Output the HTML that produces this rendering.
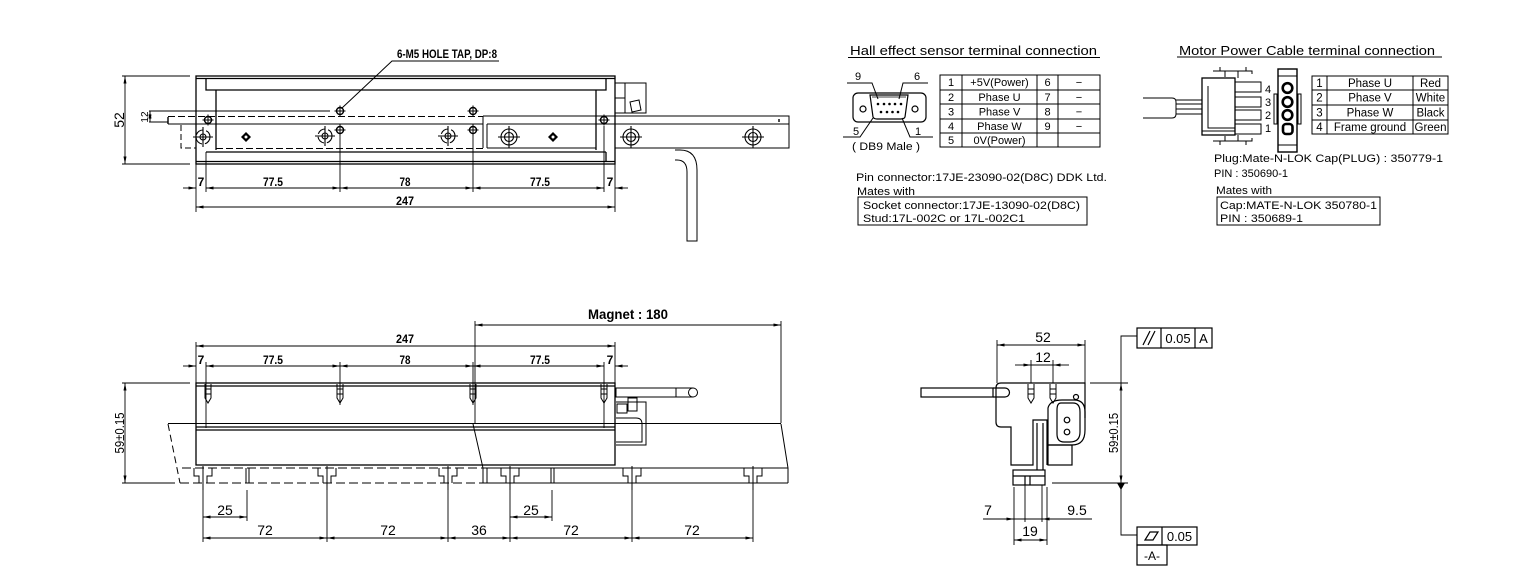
<!DOCTYPE html>
<html><head><meta charset="utf-8"><style>
html,body{margin:0;padding:0;background:#fff;}
svg{display:block;}
text{font-family:"Liberation Sans",sans-serif;fill:#000;stroke:none;}
.b{font-weight:bold;font-size:12px;}
.n{font-size:14px;}
.s{font-size:11px;}
.m{font-size:11.5px;}
</style></head><body>
<svg width="1530" height="575" viewBox="0 0 1530 575" xmlns="http://www.w3.org/2000/svg">
<defs>
<marker id="a" viewBox="0 0 10 4" refX="10" refY="2" markerWidth="8" markerHeight="3" markerUnits="userSpaceOnUse" orient="auto-start-reverse"><path d="M0,0L10,2L0,4z" fill="#000"/></marker>
<g id="h" fill="none" stroke="#000"><circle r="3.5" stroke-width="1.4"/><path d="M-5.5,0H5.5M0,-5.5V5.5" stroke-width="1"/></g>
<g id="t" fill="none" stroke="#000" stroke-width="1.1"><circle r="8"/><circle r="4.5"/><path d="M-11,0H11M0,-11V11"/></g>
<g id="c" fill="none" stroke="#000" stroke-width="1.1"><circle r="7" stroke-dasharray="9 3"/><circle r="3"/><path d="M-10,0H10M0,-10V10"/></g>
<g id="dm"><path d="M0,-5L5,0L0,5L-5,0Z" fill="#000"/><circle r="1.5" fill="#fff"/></g>
<g id="ts" fill="none" stroke="#000" stroke-width="1"><path d="M-9,468V476H-4V483M9,468V476H4V483M0,466V490"/></g>
<g id="bt" fill="none" stroke="#000" stroke-width="1"><path d="M-3,0V14L0,19L3,14V0M-3,5H3M-3,10H3"/></g>
</defs>

<!-- ================= TOP-LEFT VIEW ================= -->
<g fill="none" stroke="#000" stroke-width="1.3">
<rect x="196" y="76" width="419" height="88"/>
<line x1="196" y1="78.5" x2="615" y2="78.5"/>
<path d="M206,78V90H606V78"/>
<line x1="216" y1="90" x2="216" y2="150"/>
<line x1="596" y1="90" x2="596" y2="150"/>
<line x1="206" y1="152" x2="606" y2="152"/>
<line x1="196" y1="161.5" x2="615" y2="161.5"/>
<line x1="606" y1="152" x2="606" y2="162"/>
</g>
<g fill="none" stroke="#000" stroke-width="1">
<path d="M168,117V124" stroke-width="1.4"/>
<line x1="168" y1="116.5" x2="483" y2="116.5" stroke-dasharray="7 3"/>
<line x1="168" y1="124" x2="483" y2="124"/>
<line x1="216" y1="148.5" x2="483" y2="148.5" stroke-dasharray="7 3"/>
<path d="M181,125V148H196" stroke-dasharray="6 3"/>
<line x1="483" y1="116" x2="483" y2="148"/>
<line x1="487" y1="124" x2="487" y2="148"/>
<line x1="487" y1="148" x2="596" y2="148"/>
<line x1="483" y1="116" x2="789" y2="116"/>
<line x1="487" y1="124" x2="789" y2="124"/>
<rect x="615" y="116" width="174" height="32"/>
<path d="M779,119V122" stroke-width="1.4"/>
<line x1="149" y1="111" x2="330" y2="111"/>
<line x1="149" y1="122" x2="168" y2="122"/>
<rect x="615" y="83" width="31" height="30"/>
<line x1="625" y1="83" x2="625" y2="113"/>
<line x1="615" y1="98" x2="625" y2="98"/>
<path d="M630,102L639,100L641,110L632,112Z"/>
<path d="M675,150H680Q697,150 697,170V241H687V172Q687,160 677,160H675"/>
</g>
<use href="#h" x="208" y="120"/>
<use href="#h" x="340" y="111"/>
<use href="#h" x="340" y="130"/>
<use href="#h" x="473" y="111"/>
<use href="#h" x="473" y="130"/>
<use href="#h" x="604" y="120"/>
<use href="#c" x="203" y="137"/>
<use href="#c" x="325" y="136"/>
<use href="#c" x="448" y="136"/>
<use href="#dm" x="246" y="137"/>
<use href="#dm" x="553" y="137"/>
<use href="#t" x="509" y="137"/>
<use href="#t" x="631" y="137"/>
<use href="#t" x="753" y="137"/>
<path d="M342,108L392,61H499" fill="none" stroke="#000" stroke-width="1"/>
<text x="397" y="58" class="b" font-size="10.5" textLength="100" lengthAdjust="spacingAndGlyphs">6-M5 HOLE TAP, DP:8</text>
<g stroke="#000" stroke-width="0.9" fill="none">
<path d="M122,76H190M122,164H190"/>
<line x1="125" y1="76" x2="125" y2="164" marker-start="url(#a)" marker-end="url(#a)"/>
<line x1="150" y1="111" x2="150" y2="122" marker-start="url(#a)" marker-end="url(#a)"/>
<path d="M196,164V212M206,152V192M340,134V192M473,134V192M604,126V192M615,164V212"/>
<line x1="183" y1="188" x2="196" y2="188" marker-end="url(#a)"/>
<line x1="206" y1="188" x2="340" y2="188" marker-start="url(#a)" marker-end="url(#a)"/>
<line x1="340" y1="188" x2="473" y2="188" marker-start="url(#a)" marker-end="url(#a)"/>
<line x1="473" y1="188" x2="604" y2="188" marker-start="url(#a)" marker-end="url(#a)"/>
<line x1="628" y1="188" x2="615" y2="188" marker-end="url(#a)"/>
<line x1="196" y1="207" x2="615" y2="207" marker-start="url(#a)" marker-end="url(#a)"/>
</g>
<text transform="translate(124,120) rotate(-90)" class="n" text-anchor="middle">52</text>
<text transform="translate(148,117) rotate(-90)" font-size="10" text-anchor="middle">12</text>
<text x="201" y="186" class="b" text-anchor="middle">7</text>
<text x="273" y="186" class="b" text-anchor="middle" textLength="20" lengthAdjust="spacingAndGlyphs">77.5</text>
<text x="405" y="186" class="b" text-anchor="middle" textLength="11" lengthAdjust="spacingAndGlyphs">78</text>
<text x="540" y="186" class="b" text-anchor="middle" textLength="20" lengthAdjust="spacingAndGlyphs">77.5</text>
<text x="610" y="186" class="b" text-anchor="middle">7</text>
<text x="405" y="205" class="b" text-anchor="middle" textLength="18" lengthAdjust="spacingAndGlyphs">247</text>

<!-- ================= HALL SENSOR ================= -->
<text x="850" y="55" font-size="13" textLength="247" lengthAdjust="spacingAndGlyphs">Hall effect sensor terminal connection</text>
<line x1="848" y1="57.5" x2="1100" y2="57.5" stroke="#000" stroke-width="1"/>
<g fill="none" stroke="#000" stroke-width="1.2">
<rect x="853" y="93" width="73" height="29" rx="5"/>
<path d="M870,95H908L905,117Q904,119 901,119H877Q874,119 873,117Z"/>
<path d="M872,97H906" stroke-width="0.8"/>
<circle cx="863" cy="109" r="3"/>
<circle cx="915" cy="109" r="3"/>
<path d="M847,83H872L878,99M928,83H903L899,99M843,137H860L873,118M933,137H910L902,118" stroke-width="1"/>
</g>
<g fill="#000">
<circle cx="878" cy="104" r="1.3"/><circle cx="884" cy="104" r="1.3"/><circle cx="889.5" cy="104" r="1.3"/><circle cx="895" cy="104" r="1.3"/><circle cx="901" cy="104" r="1.3"/>
<circle cx="881" cy="112" r="1.3"/><circle cx="887" cy="112" r="1.3"/><circle cx="892.5" cy="112" r="1.3"/><circle cx="898" cy="112" r="1.3"/>
</g>
<text x="858" y="80" class="s" text-anchor="middle">9</text>
<text x="917" y="80" class="s" text-anchor="middle">6</text>
<text x="856" y="135" class="s" text-anchor="middle">5</text>
<text x="918" y="135" class="s" text-anchor="middle">1</text>
<text x="852" y="150" class="s" textLength="68" lengthAdjust="spacingAndGlyphs">( DB9 Male )</text>
<g fill="none" stroke="#000" stroke-width="1">
<rect x="940" y="75" width="160" height="72"/>
<path d="M940,90H1100M940,104H1100M940,119H1100M940,133H1100M962,75V147M1037,75V147M1058,75V147"/>
</g>
<g class="s" text-anchor="middle">
<text x="951" y="86">1</text><text x="999.5" y="86">+5V(Power)</text><text x="1047.5" y="86">6</text><text x="1079" y="86">−</text>
<text x="951" y="101">2</text><text x="999.5" y="101">Phase U</text><text x="1047.5" y="101">7</text><text x="1079" y="101">−</text>
<text x="951" y="115.5">3</text><text x="999.5" y="115.5">Phase V</text><text x="1047.5" y="115.5">8</text><text x="1079" y="115.5">−</text>
<text x="951" y="130">4</text><text x="999.5" y="130">Phase W</text><text x="1047.5" y="130">9</text><text x="1079" y="130">−</text>
<text x="951" y="144">5</text><text x="999.5" y="144">0V(Power)</text>
</g>
<text x="856" y="181" class="s" textLength="251" lengthAdjust="spacingAndGlyphs">Pin connector:17JE-23090-02(D8C) DDK Ltd.</text>
<text x="857" y="195" class="s" textLength="58" lengthAdjust="spacingAndGlyphs">Mates with</text>
<rect x="858" y="197" width="229" height="28" fill="none" stroke="#000" stroke-width="1"/>
<text x="863" y="209" class="s" textLength="217" lengthAdjust="spacingAndGlyphs">Socket connector:17JE-13090-02(D8C)</text>
<text x="863" y="222" class="s" textLength="162" lengthAdjust="spacingAndGlyphs">Stud:17L-002C or 17L-002C1</text>

<!-- ================= MOTOR POWER ================= -->
<text x="1179" y="55" font-size="13" textLength="256" lengthAdjust="spacingAndGlyphs">Motor Power Cable terminal connection</text>
<line x1="1177" y1="57" x2="1442" y2="57" stroke="#000" stroke-width="1"/>
<g fill="none" stroke="#000" stroke-width="1">
<path d="M1143,98H1172Q1176,98 1176,102V114Q1176,118 1172,118H1143"/>
<path d="M1176,100H1202M1176,104H1202M1176,109H1202M1176,114H1202"/>
<rect x="1202" y="78" width="33" height="57" stroke-width="1.3"/>
<path d="M1208,86V128H1235M1202,131H1235"/>
<path d="M1213,71H1225V77M1225,71H1252V74M1238,71V78M1220,67V71M1246,67V71"/>
<path d="M1213,141H1225V136M1225,141H1252V138M1238,135V141M1220,141V145M1246,141V145"/>
<rect x="1235" y="82" width="26" height="10"/>
<rect x="1235" y="97" width="26" height="10"/>
<rect x="1235" y="110" width="26" height="10"/>
<rect x="1235" y="124" width="26" height="10"/>
<rect x="1278" y="69" width="19" height="83" stroke-width="1.4"/>
<path d="M1278,76H1297M1278,145H1297"/>
<rect x="1274" y="94" width="3" height="30"/>
<rect x="1298" y="94" width="3" height="30"/>
</g>
<g fill="none" stroke="#000" stroke-width="2.6">
<circle cx="1287.5" cy="88" r="4.8"/>
<circle cx="1287.5" cy="102" r="4.8"/>
<circle cx="1287.5" cy="115" r="4.8"/>
<rect x="1283" y="124" width="9.5" height="10" rx="3"/>
</g>
<g class="s" font-size="10.5">
<text x="1265" y="93">4</text><text x="1265" y="106">3</text><text x="1265" y="119">2</text><text x="1265" y="132">1</text>
</g>
<g fill="none" stroke="#000" stroke-width="1">
<rect x="1312" y="76" width="136" height="58"/>
<path d="M1312,90H1448M1312,105H1448M1312,120H1448M1327,76V134M1413,76V134"/>
</g>
<g class="m" text-anchor="middle">
<text x="1319.5" y="87">1</text><text x="1370" y="87">Phase U</text><text x="1430.5" y="87">Red</text>
<text x="1319.5" y="101.5">2</text><text x="1370" y="101.5">Phase V</text><text x="1430.5" y="101.5">White</text>
<text x="1319.5" y="116.5">3</text><text x="1370" y="116.5">Phase W</text><text x="1430.5" y="116.5">Black</text>
<text x="1319.5" y="131">4</text><text x="1370" y="131">Frame ground</text><text x="1430.5" y="131">Green</text>
</g>
<text x="1214" y="162" class="s" textLength="229" lengthAdjust="spacingAndGlyphs">Plug:Mate-N-LOK Cap(PLUG) : 350779-1</text>
<text x="1214" y="177" class="s" textLength="74" lengthAdjust="spacingAndGlyphs">PIN : 350690-1</text>
<text x="1216" y="194" class="s" textLength="56" lengthAdjust="spacingAndGlyphs">Mates with</text>
<rect x="1217" y="197" width="163" height="28" fill="none" stroke="#000" stroke-width="1"/>
<text x="1220" y="209" class="s" textLength="157" lengthAdjust="spacingAndGlyphs">Cap:MATE-N-LOK 350780-1</text>
<text x="1220" y="222" class="s" textLength="83" lengthAdjust="spacingAndGlyphs">PIN : 350689-1</text>

<!-- ================= BOTTOM-LEFT VIEW ================= -->
<g fill="none" stroke="#000" stroke-width="1.3">
<rect x="196" y="383" width="419" height="82"/>
<line x1="196" y1="386" x2="615" y2="386"/>
<line x1="196" y1="427" x2="615" y2="427"/>
<line x1="196" y1="430" x2="615" y2="430"/>
</g>
<g fill="none" stroke="#000" stroke-width="1">
<line x1="168" y1="423.5" x2="781" y2="423.5"/>
<path d="M168,424L180,483" stroke-dasharray="7 4"/>
<path d="M182,468H483M180,483H483" stroke-dasharray="9 4"/>
<path d="M473,424L483,468V483M487,468V483"/>
<path d="M483,468H788M483,483H788"/>
<path d="M781,424L788,468V483"/>
<path d="M246,468V483M249,468V483M551,468V483M554,468V483"/>
<rect x="616" y="388" width="77" height="9"/>
<line x1="676" y1="388" x2="676" y2="397"/>
<circle cx="693" cy="392.5" r="4.5" fill="#fff"/>
<path d="M616,402H646V445H616"/>
<rect x="617" y="404" width="10" height="9"/>
<rect x="628" y="398" width="9" height="13"/>
<path d="M616,418H636Q642,418 642,424V442H616"/>
</g>
<use href="#ts" x="203"/><use href="#ts" x="327"/><use href="#ts" x="448"/>
<use href="#ts" x="510"/><use href="#ts" x="632"/><use href="#ts" x="753"/>
<use href="#bt" x="208" y="384"/><use href="#bt" x="340" y="384"/>
<use href="#bt" x="473" y="384"/><use href="#bt" x="604" y="384"/>
<g stroke="#000" stroke-width="0.9" fill="none">
<path d="M196,342V383M615,342V383M206,362V428M340,362V405M473,362V405M604,362V428M475,321V423M781,321V423"/>
<line x1="196" y1="346" x2="615" y2="346" marker-start="url(#a)" marker-end="url(#a)"/>
<line x1="183" y1="366" x2="196" y2="366" marker-end="url(#a)"/>
<line x1="206" y1="366" x2="340" y2="366" marker-start="url(#a)" marker-end="url(#a)"/>
<line x1="340" y1="366" x2="473" y2="366" marker-start="url(#a)" marker-end="url(#a)"/>
<line x1="473" y1="366" x2="604" y2="366" marker-start="url(#a)" marker-end="url(#a)"/>
<line x1="628" y1="366" x2="615" y2="366" marker-end="url(#a)"/>
<line x1="475" y1="325" x2="781" y2="325" marker-start="url(#a)" marker-end="url(#a)"/>
<path d="M122,383H190M122,483H175"/>
<line x1="125" y1="383" x2="125" y2="483" marker-start="url(#a)" marker-end="url(#a)"/>
<path d="M203,490V542M327,490V542M448,490V542M510,490V542M632,490V542M753,490V542M247,490V521M552,490V521"/>
<line x1="203" y1="517" x2="247" y2="517" marker-start="url(#a)" marker-end="url(#a)"/>
<line x1="510" y1="517" x2="552" y2="517" marker-start="url(#a)" marker-end="url(#a)"/>
<line x1="203" y1="538" x2="327" y2="538" marker-start="url(#a)" marker-end="url(#a)"/>
<line x1="327" y1="538" x2="448" y2="538" marker-start="url(#a)" marker-end="url(#a)"/>
<line x1="448" y1="538" x2="510" y2="538" marker-start="url(#a)" marker-end="url(#a)"/>
<line x1="510" y1="538" x2="632" y2="538" marker-start="url(#a)" marker-end="url(#a)"/>
<line x1="632" y1="538" x2="753" y2="538" marker-start="url(#a)" marker-end="url(#a)"/>
</g>
<text x="405" y="343" class="b" text-anchor="middle" textLength="18" lengthAdjust="spacingAndGlyphs">247</text>
<text x="201" y="364" class="b" text-anchor="middle">7</text>
<text x="273" y="364" class="b" text-anchor="middle" textLength="20" lengthAdjust="spacingAndGlyphs">77.5</text>
<text x="405" y="364" class="b" text-anchor="middle" textLength="11" lengthAdjust="spacingAndGlyphs">78</text>
<text x="540" y="364" class="b" text-anchor="middle" textLength="20" lengthAdjust="spacingAndGlyphs">77.5</text>
<text x="610" y="364" class="b" text-anchor="middle">7</text>
<text x="628" y="319" font-size="14" font-weight="bold" text-anchor="middle" textLength="80" lengthAdjust="spacingAndGlyphs">Magnet : 180</text>
<text transform="translate(124,433) rotate(-90)" font-size="12.5" text-anchor="middle" textLength="41" lengthAdjust="spacingAndGlyphs">59±0.15</text>
<g class="n" text-anchor="middle">
<text x="225" y="515">25</text><text x="531" y="515">25</text>
<text x="265" y="535">72</text><text x="388" y="535">72</text><text x="479" y="535">36</text>
<text x="571" y="535">72</text><text x="692" y="535">72</text>
</g>

<!-- ================= BOTTOM-RIGHT VIEW ================= -->
<g fill="none" stroke="#000" stroke-width="1.2">
<path d="M996,388Q996,383 1001,383H1085V418"/>
<path d="M996,388V422Q996,427 1001,427H1011V465H1033V420H1047V465"/>
<rect x="921" y="388" width="72" height="9"/>
<path d="M993,388H1005A4.5,4.5 0 0 1 1005,397H993"/>
<path d="M1048,445V408Q1050,400 1062,400H1074Q1085,400 1085,412V430Q1085,445 1072,445H1048"/>
<path d="M1061,403H1073Q1080,403 1080,412V432Q1080,442 1070,442H1064Q1057,442 1057,434V410Q1057,403 1061,403Z"/>
<rect x="1048" y="445" width="24" height="20"/>
<path d="M1037,423V470M1043,423V470"/>
<rect x="1013" y="470" width="32" height="15"/>
<path d="M1013,476H1045M1025,476V485M1030,476V485"/>
<circle cx="1067" cy="420" r="2.8"/>
<circle cx="1067" cy="432" r="2.8"/>
<circle cx="1076" cy="397" r="2.5"/>
</g>
<use href="#bt" x="1031" y="384"/><use href="#bt" x="1053" y="384"/>
<g stroke="#000" stroke-width="0.9" fill="none">
<path d="M997,340V383M1085,340V383M1031,360V383M1053,360V383"/>
<line x1="997" y1="345" x2="1085" y2="345" marker-start="url(#a)" marker-end="url(#a)"/>
<line x1="1015" y1="365" x2="1031" y2="365" marker-end="url(#a)"/>
<line x1="1031" y1="365" x2="1053" y2="365"/>
<line x1="1069" y1="365" x2="1053" y2="365" marker-end="url(#a)"/>
<path d="M1090,383H1128M1052,483H1128"/>
<line x1="1121" y1="383" x2="1121" y2="483" marker-start="url(#a)" marker-end="url(#a)"/>
<path d="M1121,383V336H1137M1121,483V535H1137"/>
<path d="M1014,487V545M1047,487V545M1025,485V522M1042,485V522"/>
<line x1="983" y1="519" x2="1014" y2="519" marker-end="url(#a)"/>
<line x1="1014" y1="519" x2="1042" y2="519"/>
<line x1="1092" y1="519" x2="1042" y2="519" marker-end="url(#a)"/>
<line x1="1014" y1="540" x2="1047" y2="540" marker-start="url(#a)" marker-end="url(#a)"/>
</g>
<path d="M1117,483H1125L1121,490Z" fill="#000"/>
<g fill="none" stroke="#000" stroke-width="1.2">
<rect x="1137" y="328" width="75" height="20"/>
<path d="M1161,328V348M1195,328V348"/>
<path d="M1143,345L1150,331M1148,345L1155,331"/>
<rect x="1137" y="527" width="60" height="18"/>
<path d="M1162,527V545"/>
<path d="M1145,540L1150,532H1158L1153,540Z"/>
<rect x="1137" y="545" width="30" height="20"/>
</g>
<text x="1178" y="343" font-size="13" text-anchor="middle">0.05</text>
<text x="1203.5" y="343" font-size="13" text-anchor="middle">A</text>
<text x="1179.5" y="541" font-size="13" text-anchor="middle">0.05</text>
<text x="1152" y="560" font-size="12" text-anchor="middle">-A-</text>
<text transform="translate(1118,433) rotate(-90)" font-size="12.5" text-anchor="middle" textLength="40" lengthAdjust="spacingAndGlyphs">59±0.15</text>
<g class="n" text-anchor="middle">
<text x="1043" y="342">52</text>
<text x="1043" y="362">12</text>
<text x="988" y="515">7</text>
<text x="1077" y="515">9.5</text>
<text x="1030" y="536">19</text>
</g>
</svg>
</body></html>
